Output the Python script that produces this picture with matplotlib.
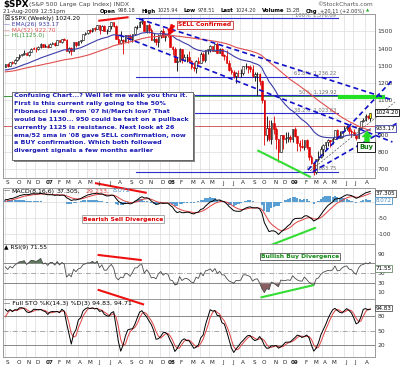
import matplotlib
matplotlib.use("Agg")
import matplotlib.pyplot as plt
import numpy as np
import pandas as pd
from matplotlib.patches import Rectangle, Polygon

# ---------------- data (weekly S&P 500) ----------------
# warm-up year (Sep 2005 - Aug 2006), used only for the moving averages / oscillators
warm_close = [1218,1241,1237,1215,1228,1196,1186,1179,1199,1220,1235,1248,1265,1265,1259,1267,1268,1248,
              1285,1287,1261,1283,1264,1267,1288,1289,1287,1282,1307,1302,1295,1295,1289,1311,1311,1326,
              1291,1267,1280,1288,1253,1252,1245,1270,1265,1236,1240,1279,1280,1267,1302,1295]
warm_high = [1222,1243,1244,1239,1231,1233,1197,1197,1204,1224,1236,1249,1269,1272,1276,1275,1272,1270,
             1287,1294,1294,1286,1287,1272,1290,1294,1297,1288,1310,1310,1306,1310,1298,1318,1316,1327,
             1326,1294,1284,1290,1290,1262,1257,1276,1280,1273,1247,1280,1286,1287,1305,1306]
warm_low = [1201,1217,1230,1205,1211,1192,1176,1170,1174,1196,1218,1228,1247,1255,1256,1256,1262,1248,
            1245,1282,1260,1258,1262,1253,1263,1283,1277,1269,1282,1295,1291,1294,1282,1285,1298,1306,
            1290,1257,1245,1264,1253,1219,1235,1237,1262,1231,1224,1240,1270,1263,1265,1291]

week_open = [1295,1311,1299,1321,1314,1336,1349,1366,1368,1377,1364,1380,1401,1400,1397,1409,1427,1410,
             1418,1410,1430,1431,1423,1449,1438,1456,1451,1387,1402,1386,1437,1421,1444,1452,1485,1494,
             1506,1505,1523,1515,1536,1507,1533,1503,1503,1531,1553,1534,1459,1433,1453,1445,1479,1474,
             1454,1484,1525,1527,1557,1561,1501,1535,1509,1453,1458,1440,1481,1504,1468,1484,
             1478,1411,1401,1325,1331,1396,1332,1349,1353,1331,1294,1288,1330,1316,1370,1333,1390,1398,
             1414,1389,1426,1376,1400,1361,1360,1318,1278,1262,1240,1261,1257,1261,1297,1298,1292,1283,
             1242,1252,1255,1213,1099,899,940,877,969,931,873,800,896,876,879,888,
             873,932,890,851,832,826,869,827,770,735,683,757,769,816,843,857,870,866,877,930,883,887,
             919,940,946,922,918,896,880,941,979,987,1010,998.18]
week_high = [1312,1314,1322,1329,1340,1353,1367,1372,1390,1382,1384,1404,1407,1407,1416,1431,1430,1427,
             1429,1432,1437,1441,1449,1452,1457,1461,1456,1409,1408,1440,1440,1445,1453,1485,1499,1510,
             1513,1523,1529,1540,1540,1539,1537,1514,1532,1556,1556,1535,1488,1503,1456,1479,1481,1488,
             1485,1530,1539,1561,1576,1563,1536,1552,1520,1492,1463,1488,1510,1523,1485,1499,
             1479,1417,1407,1350,1402,1397,1371,1367,1389,1335,1321,1332,1349,1380,1381,1395,1400,1422,
             1416,1426,1440,1406,1405,1370,1392,1336,1291,1278,1263,1277,1283,1297,1314,1300,1304,1303,
             1266,1265,1256,1220,1100,1007,985,984,1007,942,876,896,896,918,918,898,
             935,943,890,871,877,870,876,828,780,736,758,804,833,845,857,875,871,889,930,931,924,920,
             951,956,946,932,931,898,943,979,996,1018,1013,1025.94]
week_low = [1293,1291,1298,1309,1313,1327,1342,1357,1364,1361,1360,1378,1396,1378,1395,1404,1408,1410,
            1403,1408,1425,1416,1420,1437,1436,1449,1384,1373,1364,1385,1410,1419,1435,1451,1479,1483,
            1491,1498,1505,1513,1487,1506,1500,1484,1500,1517,1529,1457,1431,1430,1370,1441,1432,1452,
            1439,1477,1516,1527,1546,1500,1490,1492,1448,1438,1419,1407,1460,1467,1446,1468,
            1410,1364,1324,1271,1320,1316,1330,1321,1328,1283,1270,1257,1310,1314,1330,1324,1370,1379,
            1384,1388,1373,1373,1359,1336,1316,1272,1252,1229,1200,1236,1234,1248,1281,1261,1263,1236,
            1213,1133,1187,1084,840,866,866,845,904,818,741,800,815,851,857,857,
            857,888,805,805,822,812,818,754,730,667,672,748,767,779,814,835,826,847,877,878,879,879,
            917,929,906,888,896,869,880,932,974,980,990,978.51]
week_close = [1311,1299,1321,1314,1336,1349,1366,1368,1377,1364,1380,1401,1400,1397,1409,1427,1410,1418,
              1410,1430,1431,1423,1449,1438,1456,1451,1387,1402,1386,1437,1421,1444,1452,1485,1494,1506,
              1505,1523,1515,1536,1507,1533,1503,1503,1531,1553,1534,1459,1433,1453,1445,1479,1474,1454,
              1484,1525,1527,1557,1561,1501,1535,1509,1453,1458,1440,1481,1504,1468,1484,1478,
              1411,1401,1325,1331,1396,1332,1349,1353,1331,1294,1288,1330,1316,1370,1333,1390,1398,1414,
              1389,1426,1376,1400,1361,1360,1318,1278,1262,1240,1261,1257,1261,1297,1298,1292,1283,1242,
              1252,1255,1213,1099,899,940,877,969,931,873,800,896,876,879,888,873,
              932,890,851,832,826,869,827,770,735,683,757,769,816,843,857,870,866,877,930,883,887,919,
              940,946,922,918,896,880,941,979,987,1010,1005,1024.20]

month_letters = {1: None, 2: "F", 3: "M", 4: "A", 5: "M", 6: "J", 7: "J", 8: "A", 9: "S", 10: "O", 11: "N", 12: "D"}
fib_levels = [1576.09, 1236.22, 1129.92, 1023.63, 683.75]
fib_names = ["100%: 1,576.09", "61.8%: 1,236.22", "50%: 1,129.92", "38.2%: 1,023.63", "0%: 683.75"]
hl_levels = [1125.0, 950.0]
header_items = [("Open", "998.18"), ("High", "1025.94"), ("Low", "978.51"), ("Last", "1024.20"),
                ("Volume", "15.2B"), ("Chg", "+20.11 (+2.00%)")]

dates = pd.date_range("2006-09-01", periods=len(week_close), freq="W-FRI")
n = len(week_close)
nw = len(warm_close)

# ---------------- indicators ----------------
s = pd.Series(warm_close + week_close, dtype=float)
hs = pd.Series(warm_high + week_high, dtype=float)
ls = pd.Series(warm_low + week_low, dtype=float)
ema26 = s.ewm(span=26, adjust=False).mean().values[nw:]
sma52 = s.rolling(52).mean().values[nw:]
macd = s.ewm(span=8, adjust=False).mean() - s.ewm(span=16, adjust=False).mean()
sig = macd.ewm(span=6, adjust=False).mean()
hist = (macd - sig).values[nw:]
macd = macd.values[nw:]; sig = sig.values[nw:]
d = s.diff()
au = d.clip(lower=0).ewm(alpha=1/9, adjust=False).mean()
ad = (-d.clip(upper=0)).ewm(alpha=1/9, adjust=False).mean()
rsi = (100 - 100 / (1 + au / ad)).values[nw:]
hh = hs.rolling(14).max(); ll = ls.rolling(14).min()
fk = 100 * (s - ll) / (hh - ll)
stk = fk.rolling(3).mean(); std = stk.rolling(3).mean()
stk = stk.values[nw:]; std = std.values[nw:]

# ---------------- figure ----------------
W, H = 400, 376
plt.rcParams['font.family'] = ['DejaVu Sans']
fig = plt.figure(figsize=(W/100, H/100), dpi=100)
renderer = fig.canvas.get_renderer()

def rect(x0, y0, x1, y1):
    return [x0/W, 1 - y1/H, (x1-x0)/W, (y1-y0)/H]

def fx(x): return x / W
def fy(y): return 1 - y / H

X0, X1 = 3, 375
ax = fig.add_axes(rect(X0, 14, X1, 178))
axm = fig.add_axes(rect(X0, 188, X1, 244))
axr = fig.add_axes(rect(X0, 244, X1, 299))
axs = fig.add_axes(rect(X0, 299, X1, 357))
xs = np.arange(n)

# month ticks
mt, ml = [], []
prev = None
for i, dt in enumerate(dates):
    if dt.month != prev:
        mt.append(i)
        ml.append(dt.strftime("%y") if dt.month == 1 else month_letters[dt.month])
        prev = dt.month

grid_c = "#dcdcdc"
frame_c = "#9a9a9a"
for a in (ax, axm, axr, axs):
    a.set_xlim(-1, n + 1)
    a.set_xticks(mt)
    a.set_xticklabels([])
    a.tick_params(axis='x', length=0)
    a.yaxis.tick_right()
    a.tick_params(axis='y', length=0, pad=2, labelsize=4.3, labelcolor="#333333")
    for v in mt:
        a.axvline(v - 0.3, color=grid_c, lw=0.5, zorder=0)
    for sp in a.spines.values():
        sp.set_color(frame_c); sp.set_linewidth(0.7)

# month label rows
def month_row(ypx):
    for t, lab in zip(mt, ml):
        xp = X0 + (t + 1.7) * (X1 - X0) / (n + 2)
        fig.text(fx(xp), fy(ypx), lab, fontsize=4.1, ha='center', va='center',
                 color="#222222", fontweight='bold' if lab.isdigit() else 'normal')
month_row(183)
month_row(362.5)

# ---------------- price panel ----------------
ax.set_ylim(648.3, 1601.7)
ax.set_yticks([700, 800, 900, 1000, 1100, 1200, 1300, 1400, 1500])
ax.set_yticklabels(["700", "800", "900", "", "1100", "1200", "1300", "1400", "1500"])
for v in range(700, 1600, 100):
    ax.axhline(v, color=grid_c, lw=0.5, zorder=0)

o = np.array(week_open); hi = np.array(week_high); lo = np.array(week_low); c = np.array(week_close)
prevc = np.r_[warm_close[-1], c[:-1]]
col = np.where(c < prevc, "#dd0000", "#000000")
ax.vlines(xs, lo, hi, colors=col, lw=0.6, zorder=3)
for i in range(n):
    b0, b1 = min(o[i], c[i]), max(o[i], c[i])
    hgt = max(b1 - b0, 2)
    if i == n - 1:
        fc = "#ffee00"
    else:
        fc = col[i] if c[i] < o[i] else "white"
    ax.add_patch(Rectangle((i - 0.35, b0), 0.7, hgt, facecolor=fc, edgecolor=col[i] if i < n-1 else "black",
                           lw=0.4, zorder=4))

ax.plot(xs, ema26, color="#3c3ca8", lw=0.8, zorder=5)
ax.plot(xs, sma52, color="#e05050", lw=0.8, zorder=5)
ax.axhline(hl_levels[0], color="#3a9a3a", lw=0.7, zorder=2)
ax.axhline(hl_levels[1], color="#d06060", lw=0.7, zorder=2)

# Fibonacci retracement lines
for lev, name in zip(fib_levels, fib_names):
    ax.plot([55.5, 141.2], [lev, lev], color="#2d2dd0", lw=0.8, zorder=2, clip_on=False)
    ax.text(140.5, lev + 4, name, fontsize=3.7, color="#707070", ha='right', va='bottom', zorder=2)

# green target bar
ax.plot([141.2, 161.4], [1119, 1119], color="#22e022", lw=3.0, solid_capstyle='butt', clip_on=False, zorder=6)

# trend lines
dash = dict(color="#1010c8", lw=1.2, ls=(0, (3, 2)), clip_on=False, zorder=6)
ax.plot([56.8, 164.4], [1572.6, 1101.8], **dash)
ax.plot([48.4, 164.4], [1479.6, 857.6], **dash)
ax.plot([128.5, 164.4], [694.9, 1218.0], **dash)
ax.plot([130.6, 166.5], [685.0, 968.1], **dash)
ax.plot([129.5, 165.5], [690.0, 1090.0], color="#555555", lw=0.5, ls=(0, (3, 2)), clip_on=False, zorder=6)
ax.plot([39.9, 51.9], [1562.8, 1582.5], color="#ee1111", lw=1.5, clip_on=False, zorder=7)
ax.plot([107.4, 129.3], [807.0, 655.9], color="#33dd33", lw=1.5, clip_on=False, zorder=7)

# legend at top-left
fs_l = 4.2
fig.text(fx(4), fy(18.3), "\u2612", fontsize=fs_l, color="#000000", va='center')
fig.text(fx(11), fy(18.3), "$SPX (Weekly) 1024.20", fontsize=fs_l, color="#000000", va='center')
fig.text(fx(4), fy(24.5), "\u2014 EMA(26) 933.17", fontsize=fs_l, color="#3c3ca8", va='center')
fig.text(fx(4), fy(30.3), "\u2014 MA(52) 922.70", fontsize=fs_l, color="#e05050", va='center')
fig.text(fx(4), fy(36), "\u2014 HL(1125.0)", fontsize=fs_l, color="#3a9a3a", va='center')

# right value boxes
def vbox(ypx, txt, ec, tc="black"):
    fig.text(fx(375.5), fy(ypx), txt, fontsize=4.1, color=tc, va='center', ha='left',
             bbox=dict(boxstyle='square,pad=0.12', fc='white', ec=ec, lw=0.6))
vbox(112.5, "1024.20", "black")
vbox(128.5, "933.17", "#3c3ca8")

# header
HY = 11.0
fig.text(fx(3), fy(4.4), "$SPX", fontsize=6.3, fontweight='bold', va='center')
fig.text(fx(29), fy(4.6), "(S&P 500 Large Cap Index) INDX", fontsize=4.4, color="#444444", va='center')
fig.text(fx(3), fy(HY), "21-Aug-2009 12:51pm", fontsize=4.0, color="#333333", va='center')
xcur = 100.0
for k, (lab, val) in enumerate(header_items):
    t1 = fig.text(fx(xcur), fy(HY), lab, fontsize=3.9, fontweight='bold', color="black", va='center')
    xcur += t1.get_window_extent(renderer).width + 2.0
    t2 = fig.text(fx(xcur), fy(HY), val, fontsize=3.6, color="#333333", va='center')
    xcur += t2.get_window_extent(renderer).width + 5.5
fig.text(fx(xcur - 3.5), fy(HY), "\u25b2", fontsize=3.0, color="#22aa22", va='center')
fig.text(fx(373), fy(4.2), "\u00a9StockCharts.com", fontsize=4.2, color="#555555", va='center', ha='right')

# SELL Confirmed
fig.text(fx(178), fy(25), "SELL Confirmed", fontsize=4.3, fontweight='bold', color="#dd0000", va='center',
         bbox=dict(boxstyle='square,pad=0.25', fc='white', ec="#cc3333", lw=0.6))
fig.add_artist(Polygon([(fx(171), fy(24)), (fx(175), fy(26)), (fx(172), fy(30)), (fx(174.5), fy(31)),
                        (fx(169), fy(35)), (fx(167.5), fy(28.5)), (fx(169.5), fy(29))],
                       closed=True, fc="#ee0000", ec="#ee0000", lw=0.3, transform=fig.transFigure))

# Buy arrow + box
fig.add_artist(Polygon([(fx(364.5), fy(142)), (fx(369.5), fy(142)), (fx(369.5), fy(137)), (fx(372), fy(137)),
                        (fx(367), fy(131)), (fx(362), fy(137)), (fx(364.5), fy(137))],
                       closed=True, fc="#22dd22", ec="#22dd22", lw=0.3, transform=fig.transFigure))
fig.text(fx(359), fy(146.5), "Buy", fontsize=4.8, fontweight='bold', color="#117711", va='center',
         bbox=dict(boxstyle='square,pad=0.3', fc='white', ec="black", lw=0.6))

# explanation box
note = ("Confusing Chart...? Well let me walk you thru it.\n"
        "First is this current rally going to the 50%\n"
        "Fibonacci level from '07 hi/March low? That\n"
        "would be 1130... 950 could be test on a pullback\n"
        "currently 1125 is resistance. Next look at 26\n"
        "ema/52 sma in '08 gave SELL confirmation, now\n"
        "a BUY confirmation. Which both followed\n"
        "divergent signals a few months earlier")
fig.add_artist(Rectangle((fx(13.5), fy(161.5)), (193 - 11.7) / W, (161.5 - 93.5) / H, fc="#888888", ec='none',
                         transform=fig.transFigure, zorder=8))
fig.add_artist(Rectangle((fx(11.7), fy(160)), (193 - 11.7) / W, (160 - 92) / H, fc="white", ec="#555555", lw=0.6,
                         transform=fig.transFigure, zorder=9))
fig.text(fx(13.5), fy(93.2), note, fontsize=4.6, fontweight='bold', color="#1a1ab4", va='top', ha='left',
         linespacing=1.72, zorder=10)

# ---------------- MACD ----------------
axm.set_ylim(-133, 43)
axm.set_yticks([-100, -50])
axm.set_yticklabels(["-100", "-50"])
for v in (-100, -50, 0):
    axm.axhline(v, color=grid_c, lw=0.5, zorder=0)
axm.bar(xs, hist, width=0.9, color="#5a9fd4", zorder=2)
axm.plot(xs, sig, color="#e04040", lw=0.7, zorder=3)
axm.plot(xs, macd, color="black", lw=0.7, zorder=4)
axm.plot([38.5, 59.6], [57.9, 28.3], color="#ee1111", lw=1.5, clip_on=False, zorder=7)
axm.plot([111.7, 131.5], [-139.3, -82.7], color="#33dd33", lw=1.5, clip_on=False, zorder=7)
fs_t = 4.5
fig.text(fx(4), fy(191), "\u2014", fontsize=fs_t, color="black", va='center')
fig.text(fx(11), fy(191), "MACD(8,16,6)", fontsize=fs_t, color="black", va='center')
fig.text(fx(57), fy(191), "37.305,", fontsize=fs_t, color="black", va='center')
fig.text(fx(85), fy(191), "29.233,", fontsize=fs_t, color="#e04040", va='center')
fig.text(fx(113), fy(191), "8.072", fontsize=fs_t, color="#4a8fc4", va='center')
vbox(193.5, "37.305", "#555555")
vbox(200.5, "8.072", "#4a8fc4", "#4a8fc4")
fig.text(fx(83), fy(219), "Bearish Sell Divergence", fontsize=4.3, fontweight='bold', color="#dd0000", va='center',
         bbox=dict(boxstyle='square,pad=0.2', fc='white', ec="#999999", lw=0.6))

# ---------------- RSI ----------------
axr.set_ylim(-3.6, 109.8)
axr.set_yticks([10, 30, 50, 70, 90])
axr.set_yticklabels(["10", "30", "50", "", "90"])
axr.axhline(70, color="#888888", lw=0.7)
axr.axhline(30, color="#888888", lw=0.7)
axr.axhline(50, color="#999999", lw=0.6, ls=(0, (6, 2, 1, 2)))
axr.fill_between(xs, rsi, 70, where=rsi > 70, color="#5a7a5a", interpolate=True, lw=0)
axr.fill_between(xs, rsi, 30, where=rsi < 30, color="#8a5e5e", interpolate=True, lw=0)
axr.plot(xs, rsi, color="#4a4a4a", lw=0.6)
axr.plot([39.6, 57.5], [87.1, 76.8], color="#ee1111", lw=1.5, clip_on=False, zorder=7)
axr.plot([108.8, 130.6], [-0.1, 24.7], color="#33dd33", lw=1.5, clip_on=False, zorder=7)
fig.text(fx(4), fy(248), "\u25b2 RSI(9) 71.55", fontsize=4.2, color="black", va='center')
vbox(268.5, "71.55", "#6a8a6a")
fig.text(fx(261), fy(256.5), "Bullish Buy Divergence", fontsize=4.3, fontweight='bold', color="#118811", va='center',
         bbox=dict(boxstyle='square,pad=0.2', fc='white', ec="#555555", lw=0.6))

# ---------------- Full STO ----------------
axs.set_ylim(-4.8, 116)
axs.set_yticks([20, 50, 80])
axs.set_yticklabels(["20", "50", "80"])
axs.axhline(80, color="#888888", lw=0.7)
axs.axhline(20, color="#888888", lw=0.7)
axs.axhline(50, color="#999999", lw=0.6, ls=(0, (6, 2, 1, 2)))
axs.plot(xs, std, color="#e04040", lw=0.7)
axs.plot(xs, stk, color="black", lw=0.7)
axs.plot([39.6, 58.5], [134.8, 105.0], color="#ee1111", lw=1.5, clip_on=False, zorder=7)
fig.text(fx(4), fy(303.5), "\u2014 Full STO %K(14,3) %D(3) 94.83, 94.71", fontsize=4.5, color="black", va='center')
vbox(308, "94.83", "#555555")

fig.savefig("out.png", dpi=100)
